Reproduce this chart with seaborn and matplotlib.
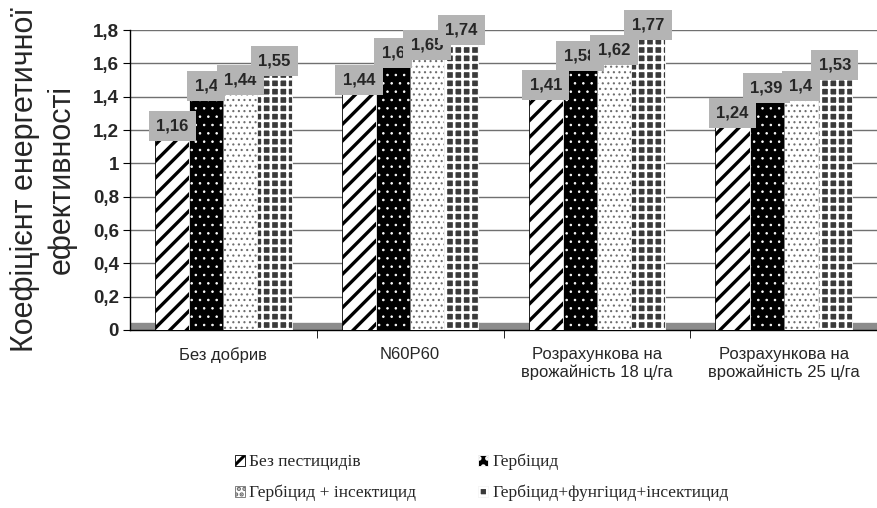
import numpy as np
import pandas as pd
import matplotlib
matplotlib.use('Agg')
import matplotlib.pyplot as plt
import seaborn as sns

# Data
categories = ['Без добрив', 'N60P60', 'Розрахункова на\nврожайність 18 ц/га',
              'Розрахункова на\nврожайність 25 ц/га']
treatments = ['Без пестицидів', 'Гербіцид', 'Гербіцид + інсектицид',
              'Гербіцид+фунгіцид+інсектицид']
no_pesticides = [1.16, 1.44, 1.41, 1.24]
herbicide = [1.40, 1.60, 1.58, 1.39]
herb_insect = [1.44, 1.65, 1.62, 1.40]
herb_fung_insect = [1.55, 1.74, 1.77, 1.53]
y_ticks = [0, 0.2, 0.4, 0.6, 0.8, 1.0, 1.2, 1.4, 1.6, 1.8]

series = [no_pesticides, herbicide, herb_insect, herb_fung_insect]
df = pd.DataFrame({
    'category': categories * 4,
    'treatment': [t for t in treatments for _ in categories],
    'value': [v for s in series for v in s],
})

sns.set_style('white')
plt.rcParams['font.family'] = ['Liberation Sans', 'DejaVu Sans']
plt.rcParams['hatch.linewidth'] = 2.2

fig = plt.figure(figsize=(8.77, 5.08), dpi=100)
ax = fig.add_axes([130 / 877, 178 / 508, 747 / 877, 300 / 508])

face = ['white', 'black', 'white', '#3a3a3a']
hatch_col = ['black', 'white', '#6e6e6e', 'white']
hatches = ['//', '..', '...', '++']
hatch_lw = [2.4, 0.6, 0.8, 1.9]

sns.barplot(data=df, x='category', y='value', hue='treatment', order=categories,
            hue_order=treatments, palette=face, width=0.73, saturation=1,
            legend=False, ax=ax, zorder=3)

for i, cont in enumerate(ax.containers):
    for bar in cont:
        bar.set_facecolor(face[i])
        bar.set_edgecolor(hatch_col[i])
        bar.set_hatch(hatches[i])
        bar.set_linewidth(0.6)
        if hasattr(bar, 'set_hatch_linewidth'):
            bar.set_hatch_linewidth(hatch_lw[i])
    labels = [f'{v:.2f}'.rstrip('0').rstrip('.').replace('.', ',') for v in series[i]]
    ax.bar_label(cont, labels=labels, padding=2, fontsize=12, fontweight='bold',
                 bbox=dict(boxstyle='square,pad=0.45', facecolor='#b4b4b4',
                           edgecolor='none'), zorder=5)

# floor of the 3d chart
ax.axhspan(0, 0.045, color='#8c8c8c', zorder=1)

ax.set_ylim(0, 1.8)
ax.set_xlim(-0.5, 3.5)
ax.set_yticks(y_ticks)
ax.set_yticklabels([f'{t:g}'.replace('.', ',') for t in y_ticks],
                   fontsize=13.5, fontweight='bold')
ax.yaxis.grid(True, color='#707070', linewidth=1.0, zorder=0)
ax.set_axisbelow(True)
ax.tick_params(axis='y', direction='out', length=5, left=True, color='black', pad=3)
ax.set_xticks(range(len(categories)))
ax.set_xticklabels(categories, fontsize=12, linespacing=1.25)
ax.tick_params(axis='x', which='major', length=0, pad=12)
ax.set_xticks([0.5, 1.5, 2.5], minor=True)
ax.tick_params(axis='x', which='minor', direction='out', length=6, bottom=True,
               color='black')
ax.set_xlabel('')
ax.set_ylabel('')
for side in ['top', 'right']:
    ax.spines[side].set_visible(False)
for side in ['left', 'bottom']:
    ax.spines[side].set_color('black')
    ax.spines[side].set_linewidth(1)

fig.text(43 / 877, 1 - 180 / 508, 'Коефіцієнт енергетичної\nефективності',
         rotation=90, ha='center', va='center', fontsize=22, linespacing=1.3)

# legend, row-major order
handles = list(ax.containers)
order = [0, 2, 1, 3]
fig.legend([handles[i] for i in order], [treatments[i] for i in order],
           ncol=2, loc='upper left', bbox_to_anchor=(226 / 877, 1 - 445 / 508),
           frameon=False, prop={'family': 'Liberation Serif', 'size': 12.5},
           handlelength=0.6, handleheight=0.6, handletextpad=0.2,
           columnspacing=3.6, labelspacing=0.85, borderpad=0)

fig.savefig('out.png', dpi=100)
